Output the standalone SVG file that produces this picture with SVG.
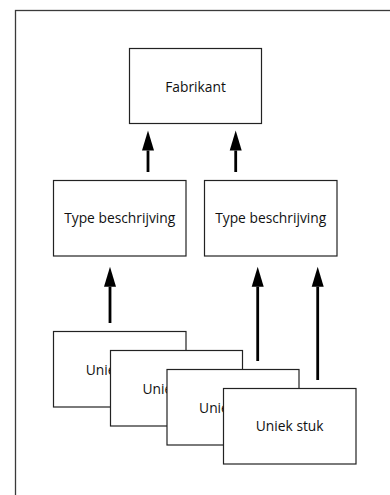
<svg xmlns="http://www.w3.org/2000/svg" width="390" height="495" viewBox="0 0 390 495">
<style>
.box{fill:#fff;stroke:#222;stroke-width:1.2}
.lbl{font-family:"Open Sans","Liberation Sans",sans-serif;font-size:13.8px;fill:#111;text-anchor:middle}
.arr{stroke:#000;stroke-width:2.8;fill:none;marker-end:url(#head)}
</style>
<defs>
<marker id="head" markerUnits="userSpaceOnUse" markerWidth="20" markerHeight="12" viewBox="0 -6 20 12" refX="0" refY="0" orient="auto" overflow="visible">
<path d="M0,-6 L20,0 L0,6 z" fill="#000"/>
</marker>
</defs>
<rect x="0" y="0" width="390" height="495" fill="#fff"/>
<rect id="frame" x="15.5" y="10.5" width="420" height="520" fill="none" stroke="#3a3a3a" stroke-width="1.3"/>
<g id="fabrikant">
<rect class="box" x="129.5" y="48.5" width="132" height="75"/>
<text class="lbl" x="195.5" y="92">Fabrikant</text>
</g>
<g id="type1">
<rect class="box" x="53.5" y="180.5" width="132.5" height="75.5"/>
<text class="lbl" x="119.7" y="223">Type beschrijving</text>
</g>
<g id="type2">
<rect class="box" x="204.5" y="180.5" width="132.5" height="75.5"/>
<text class="lbl" x="270.7" y="223">Type beschrijving</text>
</g>
<g id="connectors">
<line class="arr" x1="148" y1="172" x2="148" y2="150.5"/>
<line class="arr" x1="235.7" y1="172" x2="235.7" y2="150.5"/>
<line class="arr" x1="110" y1="323" x2="110" y2="286.7"/>
<line class="arr" x1="257.7" y1="361" x2="257.7" y2="286.7"/>
<line class="arr" x1="317.7" y1="380" x2="317.7" y2="286.7"/>
</g>
<g id="uniek1">
<rect class="box" x="53.5" y="331.5" width="132.5" height="75.5"/>
<text class="lbl" x="119.7" y="375">Uniek stuk</text>
</g>
<g id="uniek2">
<rect class="box" x="110.5" y="350.5" width="132" height="75.5"/>
<text class="lbl" x="176.4" y="394">Uniek stuk</text>
</g>
<g id="uniek3">
<rect class="box" x="167" y="369.5" width="132" height="75.5"/>
<text class="lbl" x="233" y="413">Uniek stuk</text>
</g>
<g id="uniek4">
<rect class="box" x="223.5" y="388.5" width="132.5" height="75.5"/>
<text class="lbl" x="289.7" y="430.7">Uniek stuk</text>
</g>
</svg>
